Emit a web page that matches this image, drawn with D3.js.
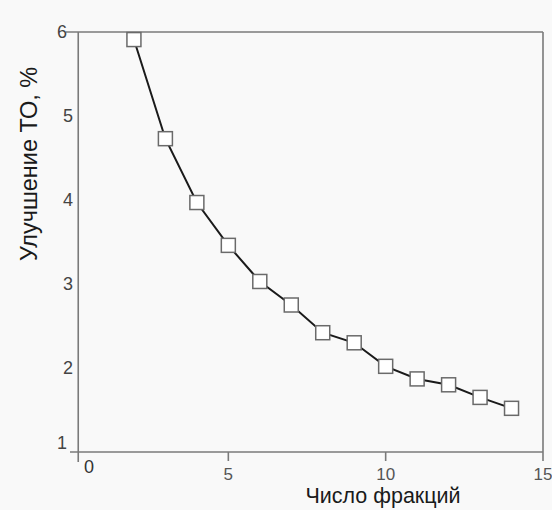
<!DOCTYPE html>
<meta charset="utf-8">
<style>
body { margin: 0; background: #f9f9f9; }
text { font-family: "Liberation Sans", Arial, sans-serif; }
</style>
<body>
<script src="https://cdnjs.cloudflare.com/ajax/libs/d3/7.8.5/d3.min.js"></script>
<script>

var w = 552;
var h = 510;

// data
var fractions = [2, 3, 4, 5, 6, 7, 8, 9, 10, 11, 12, 13, 14];
var gain = [5.91, 4.73, 3.97, 3.46, 3.03, 2.75, 2.42, 2.30, 2.02, 1.87, 1.80, 1.65, 1.52];
var xTicks = [5, 10, 15];
var yTicks = [1, 2, 3, 4, 5, 6];

var svg = d3.select("body")
	.append("svg")
	.attr("width", w)
	.attr("height", h);

var x = d3.scaleLinear().domain([0, 15]).range([71, 543]);
var y = d3.scaleLinear().domain([1, 6]).range([452, 32]);
var x0 = x(0.23); // where the y axis sits

var axisCol = "#7a7a7a";

// frame: top and right
svg.append("line")
	.attr("x1", 66).attr("x2", x(15))
	.attr("y1", y(6)).attr("y2", y(6))
	.attr("stroke", axisCol).attr("stroke-width", 1.6);
svg.append("line")
	.attr("x1", x(15)).attr("x2", x(15))
	.attr("y1", y(6)).attr("y2", y(1))
	.attr("stroke", axisCol).attr("stroke-width", 1.6);

// bottom axis
svg.append("line")
	.attr("x1", 70).attr("x2", x(15))
	.attr("y1", y(1)).attr("y2", y(1))
	.attr("stroke", axisCol).attr("stroke-width", 1.6);
// left axis
svg.append("line")
	.attr("x1", x0).attr("x2", x0)
	.attr("y1", y(6)).attr("y2", y(1) + 10)
	.attr("stroke", axisCol).attr("stroke-width", 1.6);

// x ticks
svg.selectAll(".xt")
	.data(xTicks)
	.enter()
	.append("line")
	.attr("x1", function(d) { return x(d); })
	.attr("x2", function(d) { return x(d); })
	.attr("y1", y(1))
	.attr("y2", y(1) + 9)
	.attr("stroke", axisCol)
	.attr("stroke-width", 1.6);

svg.selectAll(".xl")
	.data(xTicks)
	.enter()
	.append("text")
	.attr("x", function(d) { return x(d); })
	.attr("y", y(1) + 28)
	.attr("text-anchor", "middle")
	.attr("font-size", 17)
	.attr("fill", "#555")
	.text(function(d) { return d; });

// the "0" sits to the right of the corner
svg.append("text")
	.attr("x", x(0) + 18)
	.attr("y", y(1) + 21)
	.attr("text-anchor", "middle")
	.attr("font-size", 18)
	.attr("fill", "#333")
	.text("0");

svg.selectAll(".yl")
	.data(yTicks)
	.enter()
	.append("text")
	.attr("x", function(d) { return (d == 1 || d == 6) ? 67 : 73; })
	.attr("y", function(d) { return y(d) + (d == 1 ? -3 : 6); })
	.attr("text-anchor", "end")
	.attr("font-size", 18)
	.attr("fill", "#444")
	.text(function(d) { return d; });

// line
var line = d3.line()
	.x(function(d, i) { return x(fractions[i]); })
	.y(function(d) { return y(d); });

svg.append("path")
	.datum(gain)
	.attr("d", line)
	.attr("fill", "none")
	.attr("stroke", "#1a1a1a")
	.attr("stroke-width", 2);

var s = 14;
svg.selectAll(".pt")
	.data(gain)
	.enter()
	.append("rect")
	.attr("x", function(d, i) { return x(fractions[i]) - s / 2; })
	.attr("y", function(d) { return y(d) - s / 2; })
	.attr("width", s)
	.attr("height", s)
	.attr("fill", "white")
	.attr("stroke", "#6a6a6a")
	.attr("stroke-width", 1.5);

// titles
svg.append("text")
	.attr("transform", "translate(37,164) rotate(-90)")
	.attr("text-anchor", "middle")
	.attr("font-size", 23.5)
	.attr("fill", "#1a1a1a")
	.text("Улучшение ТО, %");

svg.append("text")
	.attr("x", 383)
	.attr("y", 503)
	.attr("text-anchor", "middle")
	.attr("font-size", 21.5)
	.attr("fill", "#1a1a1a")
	.text("Число фракций");

</script>
</body>
